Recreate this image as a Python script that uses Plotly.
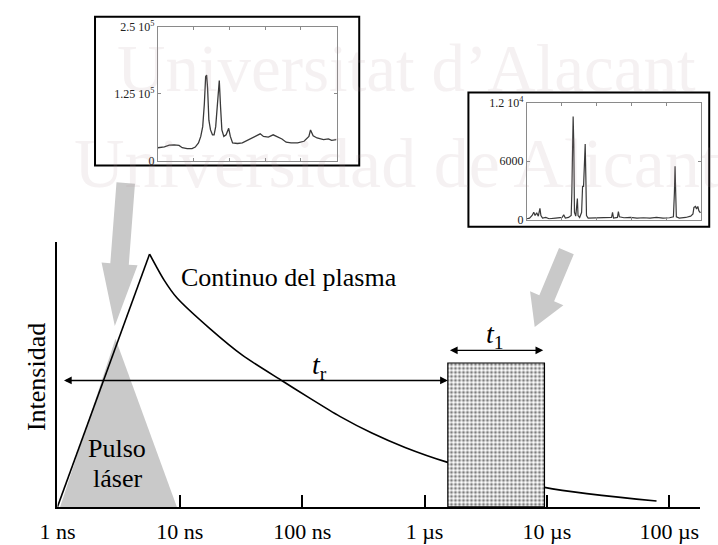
import math
import plotly.graph_objects as go

W, H = 718, 545
SERIF = "Liberation Serif, Times New Roman, serif"

# ---- plasma emission timeline (time in ns, intensity relative to the continuum peak)
rise_t = [1.0, 5.66]
rise_i = [0.0, 1.0]
decay_t = [5.66, 7.46, 9.46, 17.7, 32.4, 70, 111, 203, 371, 693, 1524, 9550, 78700]
decay_i = [1.0, 0.896, 0.827, 0.704, 0.6, 0.496, 0.435, 0.358, 0.292, 0.235, 0.177, 0.077, 0.023]
pulse_t = [1.05, 2.98, 9.46]
pulse_i = [0.0, 0.665, 0.0]
gate_t = [1550, 9550]          # detection window start / end (ns)
gate_top = 0.569
delay_level = 0.5              # height of the t_r arrow
width_level = 0.619            # height of the t_1 arrow
tick_ns = [1, 10, 100, 1000, 10000, 100000]
tick_text = ["1 ns", "10 ns", "100 ns", "1 µs", "10 µs", "100 µs"]

# ---- spectrum recorded early (inset on the left)
spec1_ch = [0, 20, 35, 50, 65, 75, 90, 105, 115, 125, 132, 138, 143, 147, 150, 153, 157, 162,
            168, 173, 178, 183, 187, 189, 193, 197, 203, 210, 218, 223, 230, 245, 260, 275,
            290, 305, 315, 325, 340, 355, 368, 382, 395, 410, 430, 450, 465, 470, 478, 490,
            510, 525, 535, 550]
spec1_counts = [24200, 26000, 29000, 29700, 28500, 24200, 22400, 22400, 25400, 33300, 45400,
                63600, 106000, 157000, 160000, 136000, 75700, 57500, 48400, 48400, 63600,
                106000, 148000, 150000, 100000, 57500, 45400, 48400, 60500, 45400, 33300,
                32100, 33300, 38100, 42400, 47800, 50200, 45400, 44200, 48400, 44200, 40600,
                34500, 33300, 33300, 36300, 45400, 57500, 46600, 42400, 39300, 40600, 38100,
                39300]
spec1_ticks = [0, 125000, 250000]
spec1_ticktext = ["0", "1.25 10<sup>5</sup>", "2.5 10<sup>5</sup>"]

# ---- spectrum recorded inside the gate (inset on the right)
spec2_ch = [0, 8, 16, 21, 25, 30, 35, 40, 43, 48, 58, 68, 88, 108, 113, 118, 128, 136, 138,
            140, 142, 144, 146, 150, 153, 155, 157, 162, 168, 171, 174, 177, 179, 181, 183,
            188, 198, 213, 228, 248, 260, 263, 266, 278, 281, 284, 298, 318, 338, 358, 378,
            398, 418, 438, 450, 453, 455, 457, 459, 468, 488, 503, 510, 513, 518, 521, 525,
            528, 533]
spec2_counts = [100, 166, 430, 760, 430, 700, 365, 1160, 430, 166, 230, 100, 166, 230, 500,
                166, 230, 430, 2760, 9400, 10570, 7750, 760, 365, 2090, 2160, 430, 230, 760,
                3420, 3420, 6080, 7750, 4420, 430, 166, 166, 230, 166, 166, 230, 760, 166,
                230, 830, 300, 200, 230, 166, 200, 166, 230, 166, 200, 300, 2760, 5480, 2760,
                300, 166, 230, 365, 600, 1260, 1360, 1100, 1360, 930, 700]
spec2_ticks = [0, 6000, 12000]
spec2_ticktext = ["0", "6000", "1.2 10<sup>4</sup>"]


def px(x, y):
    """Pixel position on the page -> paper coordinates."""
    return x / W, 1 - y / H


def block_arrow(tail, tip, body_w, head_w, head_len):
    """SVG path of a wide filled arrow, given in pixels, returned in paper units."""
    dx, dy = tip[0] - tail[0], tip[1] - tail[1]
    L = math.hypot(dx, dy)
    ux, uy = dx / L, dy / L
    nx, ny = -uy, ux
    bx, by = tip[0] - ux * head_len, tip[1] - uy * head_len
    pts = [
        (tail[0] + nx * body_w / 2, tail[1] + ny * body_w / 2),
        (bx + nx * body_w / 2, by + ny * body_w / 2),
        (bx + nx * head_w / 2, by + ny * head_w / 2),
        tip,
        (bx - nx * head_w / 2, by - ny * head_w / 2),
        (bx - nx * body_w / 2, by - ny * body_w / 2),
        (tail[0] - nx * body_w / 2, tail[1] - ny * body_w / 2),
    ]
    pp = [px(*p) for p in pts]
    return "M " + " L ".join(f"{a:.5f},{b:.5f}" for a, b in pp) + " Z"


fig = go.Figure()

# laser pulse
fig.add_trace(go.Scatter(x=pulse_t, y=pulse_i, fill="toself", fillcolor="#c9c9c9",
                         mode="lines", line=dict(width=0, color="#c9c9c9"),
                         xaxis="x", yaxis="y", hoverinfo="skip"))
# plasma continuum: linear rise then decay
fig.add_trace(go.Scatter(x=rise_t, y=rise_i, mode="lines",
                         line=dict(color="black", width=1.6), xaxis="x", yaxis="y"))
fig.add_trace(go.Scatter(x=decay_t, y=decay_i, mode="lines",
                         line=dict(color="black", width=1.6, shape="spline", smoothing=0.8),
                         xaxis="x", yaxis="y"))
# detection gate
fig.add_trace(go.Scatter(
    x=[gate_t[0], gate_t[1], gate_t[1], gate_t[0], gate_t[0]],
    y=[0, 0, gate_top, gate_top, 0],
    fill="toself", mode="lines",
    fillpattern=dict(shape=".", fgcolor="black", bgcolor="white", size=4, solidity=0.45),
    line=dict(color="black", width=1.2), xaxis="x", yaxis="y"))

# inset spectra
fig.add_trace(go.Scatter(x=spec1_ch, y=spec1_counts, mode="lines",
                         line=dict(color="#3a3a3a", width=1.3), xaxis="x2", yaxis="y2"))
fig.add_trace(go.Scatter(x=spec2_ch, y=spec2_counts, mode="lines",
                         line=dict(color="#3a3a3a", width=1.2), xaxis="x3", yaxis="y3"))

shapes = []
# inset frames
for (x0, y0, x1, y1) in [(79, 9, 350, 162), (462, 87, 709, 225)]:
    a0, b0 = px(x0, y0)
    a1, b1 = px(x1, y1)
    shapes.append(dict(type="rect", xref="paper", yref="paper", x0=a0, x1=a1, y0=b1, y1=b0,
                       line=dict(color="black", width=2), fillcolor="rgba(0,0,0,0)"))
# grey arrows pointing from each spectrum to its time window
shapes.append(dict(type="path", xref="paper", yref="paper",
                   path=block_arrow((110.5, 180), (99.3, 327), 19, 37, 64),
                   fillcolor="#c9c9c9", line=dict(width=0)))
shapes.append(dict(type="path", xref="paper", yref="paper",
                   path=block_arrow((562.5, 250), (530, 328), 16.4, 37, 32),
                   fillcolor="#c9c9c9", line=dict(width=0)))

annotations = []
lg = math.log10
# t_r arrow (delay) and t_1 arrow (gate width)
annotations.append(dict(xref="x", yref="y", axref="x", ayref="y",
                        x=lg(gate_t[0]), y=delay_level, ax=lg(tick_ns[0]), ay=delay_level,
                        text="", showarrow=True, arrowside="end+start", arrowhead=2,
                        arrowsize=1.1, arrowwidth=1.4, arrowcolor="black", startstandoff=5))
annotations.append(dict(xref="x", yref="y", axref="x", ayref="y",
                        x=lg(gate_t[1]) - 0.01, y=width_level, ax=lg(gate_t[0]) + 0.005,
                        ay=width_level, text="", showarrow=True, arrowside="end+start",
                        arrowhead=2, arrowsize=1.1, arrowwidth=1.4, arrowcolor="black"))


def label(text, x, y, size, color="black", **kw):
    a, b = px(x, y)
    d = dict(xref="paper", yref="paper", x=a, y=b, text=text, showarrow=False,
             xanchor="center", yanchor="middle",
             font=dict(family=SERIF, size=size, color=color))
    d.update(kw)
    annotations.append(d)


label("<i>t</i><sub>r</sub>", 309, 369, 28)
label("<i>t</i><sub>1</sub>", 489, 337, 28)
label("Continuo del plasma", 165, 277, 26, xanchor="left")
label("Intensidad", 19, 380, 26, textangle=-90)
label("Pulso", 102, 453, 26)
label("láser", 102, 484, 26)

# institutional watermark
wm = "rgba(175,150,158,0.13)"
label("Universitat d’Alacant", 100, 62, 67, color=wm, xanchor="left")
label("Universidad de Alicante", 55, 160, 70, color=wm, xanchor="left")

inset_axis = dict(showline=True, linecolor="#8a8a8a", linewidth=1, mirror="ticks",
                  ticks="inside", ticklen=3, tickcolor="#8a8a8a", showgrid=False,
                  zeroline=False)

fig.update_layout(
    width=W, height=H, margin=dict(l=0, r=0, t=0, b=0),
    paper_bgcolor="white", plot_bgcolor="rgba(0,0,0,0)", showlegend=False,
    xaxis=dict(type="log", domain=[40.5 / W, 700 / W], range=[0, (700 - 40.5) / 125.5],
               anchor="y", showline=True, linecolor="black", linewidth=1.5,
               ticks="inside", ticklen=12, tickwidth=1.5, tickcolor="black",
               tickvals=tick_ns, ticktext=tick_text, showgrid=False, zeroline=False,
               ticklabelstandoff=4,
               tickfont=dict(family=SERIF, size=22, color="black")),
    yaxis=dict(domain=[1 - 513 / H, 1 - 241 / H], range=[0, (513 - 241) / 260], anchor="x",
               showline=True, linecolor="black", linewidth=1.5, showticklabels=False,
               ticks="", showgrid=False, zeroline=False),
    xaxis2=dict(domain=[143.5 / W, 326.7 / W], range=[0, 550], anchor="y2",
                tickvals=[0, 110, 220, 330, 440, 550], showticklabels=False, **inset_axis),
    yaxis2=dict(domain=[1 - 157 / H, 1 - 19.5 / H], range=[0, 250000], anchor="x2",
                tickvals=spec1_ticks, ticktext=spec1_ticktext,
                tickfont=dict(family=SERIF, size=12, color="#222"), **inset_axis),
    xaxis3=dict(domain=[522 / W, 701 / W], range=[0, 536], anchor="y3",
                tickvals=[0, 107, 214, 321, 428, 535], showticklabels=False, **inset_axis),
    yaxis3=dict(domain=[1 - 217.7 / H, 1 - 97.3 / H], range=[0, 12000], anchor="x3",
                tickvals=spec2_ticks, ticktext=spec2_ticktext,
                tickfont=dict(family=SERIF, size=12, color="#222"), **inset_axis),
    shapes=shapes, annotations=annotations,
)

fig.write_html("out.html")
